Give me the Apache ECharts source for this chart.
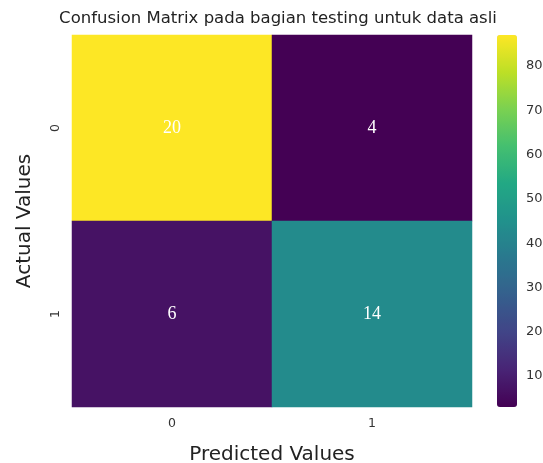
<!DOCTYPE html>
<html>
<head>
<meta charset="utf-8">
<script src="https://cdn.jsdelivr.net/npm/echarts@6/dist/echarts.min.js"></script>
<style>
  html, body { margin: 0; padding: 0; background: #fff; }
  #chart { width: 543px; height: 463px; }
</style>
</head>
<body>
<div id="chart"></div>
<script>
const xCats = ['0', '1']
const yCats = ['0', '1']
// annotated counts, row = actual, col = predicted
const counts = [
  [20, 4],
  [6, 14]
]
// values behind the colours
const colorVals = [
  [87, 3],
  [7, 43]
]
const barTicks = [10, 20, 30, 40, 50, 60, 70, 80]
const barMin = 3
const barMax = 87
const viridis = ['#440154', '#482475', '#414487', '#355f8d', '#2a788e', '#21918c',
  '#22a884', '#44bf70', '#7ad151', '#bddf26', '#fde725']

const cells = []
yCats.forEach((yc, r) => {
  xCats.forEach((xc, c) => {
    cells.push({ value: [c, r, colorVals[r][c]], count: counts[r][c] })
  })
})

const chart = echarts.init(document.getElementById('chart'))
const sans = 'DejaVu Sans'

chart.setOption({
  animation: false,
  title: {
    text: 'Confusion Matrix pada bagian testing untuk data asli',
    left: 273,
    textAlign: 'center',
    top: 5,
    textStyle: { fontFamily: sans, fontSize: 16.5, fontWeight: 'normal', color: '#222' }
  },
  grid: [
    { left: 72, top: 35, width: 400, height: 372, outerBoundsMode: 'none' },
    { left: 497, top: 35, width: 20, height: 372, outerBoundsMode: 'none' }
  ],
  xAxis: [
    {
      type: 'category', gridIndex: 0, data: xCats,
      name: 'Predicted Values', nameLocation: 'middle', nameGap: 38,
      nameTextStyle: { fontFamily: sans, fontSize: 20, color: '#222' },
      axisLine: { show: false },
      axisTick: { alignWithLabel: true, length: 5, lineStyle: { color: '#333' } },
      axisLabel: { fontFamily: sans, fontSize: 12.5, color: '#333', margin: 10 },
      splitLine: { show: false }
    },
    { type: 'value', gridIndex: 1, show: false }
  ],
  yAxis: [
    {
      type: 'category', gridIndex: 0, data: yCats, inverse: true,
      name: 'Actual Values', nameLocation: 'middle', nameGap: 37, nameRotate: 90,
      nameTextStyle: { fontFamily: sans, fontSize: 20, color: '#222' },
      axisLine: { show: false },
      axisTick: { alignWithLabel: true, length: 5, lineStyle: { color: '#333' } },
      axisLabel: { fontFamily: sans, fontSize: 12.5, color: '#333', rotate: 90, margin: 10 },
      splitLine: { show: false }
    },
    {
      type: 'value', gridIndex: 1, position: 'right', min: barMin, max: barMax,
      axisLine: { show: false },
      axisTick: { show: true, length: 5, customValues: barTicks, lineStyle: { color: '#333' } },
      axisLabel: { fontFamily: sans, fontSize: 13, color: '#333', margin: 9, customValues: barTicks },
      splitLine: { show: false }
    }
  ],
  visualMap: {
    type: 'continuous',
    min: barMin,
    max: barMax,
    seriesIndex: 0,
    calculable: false,
    hoverLink: false,
    left: 497,
    top: 35,
    itemWidth: 20,
    itemHeight: 372,
    padding: 0,
    inRange: { color: viridis }
  },
  series: [
    {
      type: 'heatmap',
      xAxisIndex: 0,
      yAxisIndex: 0,
      data: cells,
      label: {
        show: true,
        formatter: (p) => String(p.data.count),
        fontFamily: 'Liberation Serif',
        fontSize: 18,
        color: '#fff'
      },
      itemStyle: { borderWidth: 0 }
    }
  ]
})
</script>
</body>
</html>
